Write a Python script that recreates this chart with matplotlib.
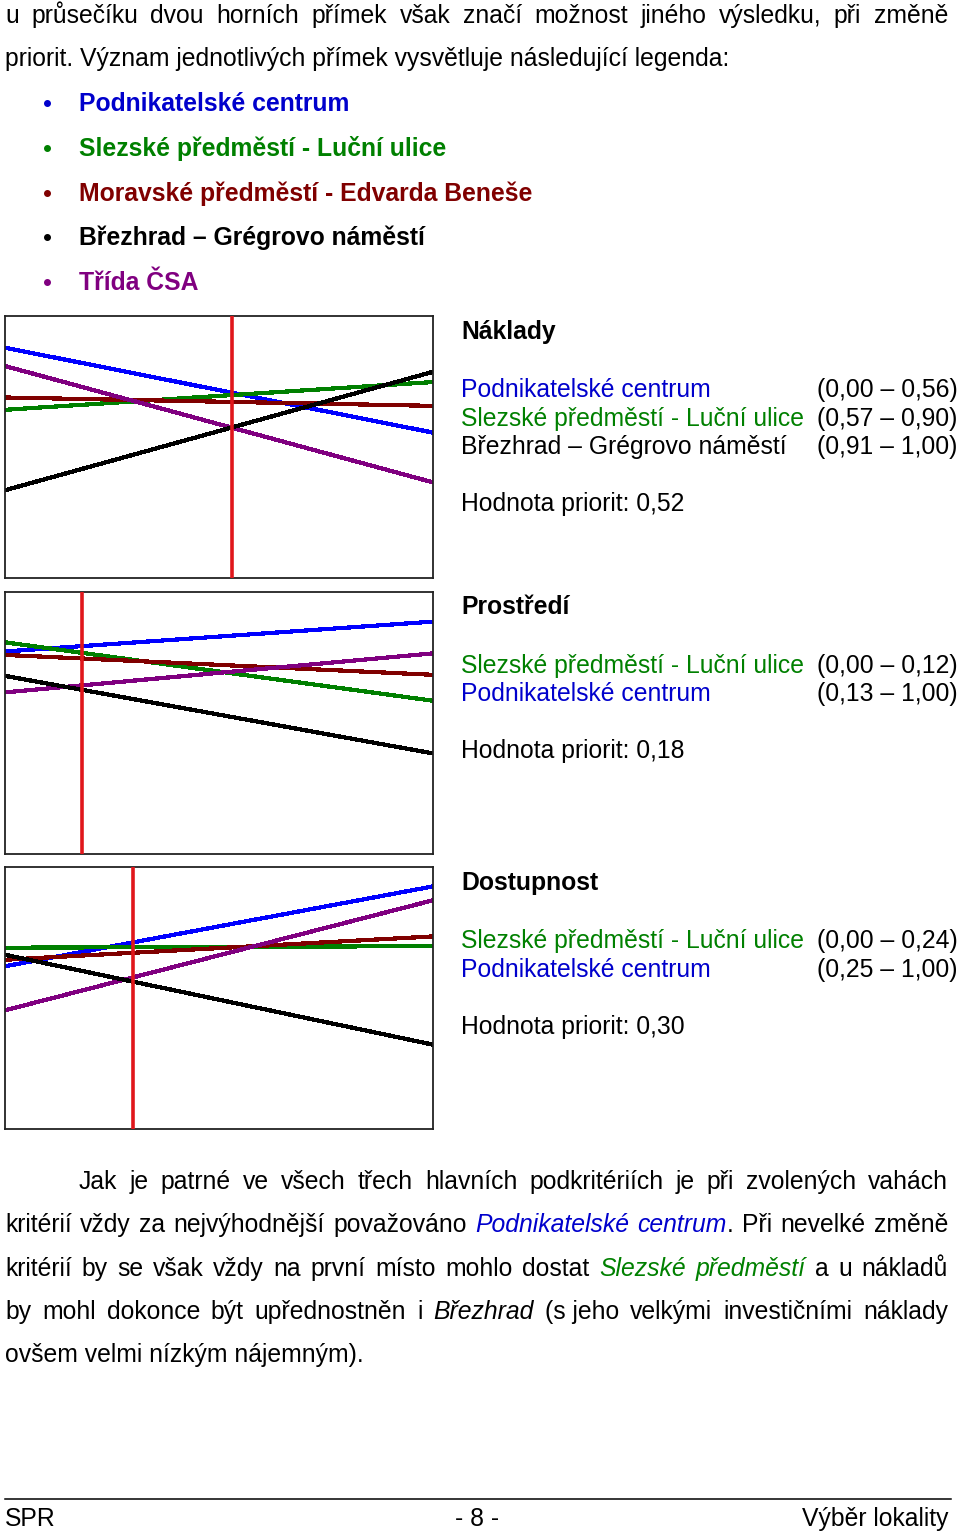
import matplotlib
matplotlib.use("Agg")
import matplotlib.pyplot as plt

plt.rcParams["font.family"] = ["Liberation Sans", "DejaVu Sans"]

# ---- data ----
alternatives = ["Podnikatelské centrum", "Slezské předměstí - Luční ulice",
                "Moravské předměstí - Edvarda Beneše", "Březhrad – Grégrovo náměstí",
                "Třída ČSA"]
text_colors = ["#0000CC", "#008000", "#800000", "#000000", "#800080"]
line_colors = ["#0000FF", "#008000", "#800000", "#000000", "#800080"]

criteria = ["Náklady", "Prostředí", "Dostupnost"]
priority_labels = ["0,52", "0,18", "0,30"]
priority_marks = [0.53, 0.18, 0.30]   # where the red line sits in each chart
weight_x = [0.0, 1.0]

# value of each alternative at weight 0 and weight 1 (order as alternatives)
naklady_start = [0.879, 0.642, 0.689, 0.335, 0.809]
naklady_end = [0.555, 0.748, 0.657, 0.787, 0.365]
prostredi_start = [0.771, 0.806, 0.758, 0.678, 0.615]
prostredi_end = [0.885, 0.583, 0.682, 0.382, 0.764]
dostupnost_start = [0.621, 0.692, 0.646, 0.665, 0.453]
dostupnost_end = [0.926, 0.698, 0.735, 0.322, 0.873]

# winner for each priority range: (alternative index, range text)
naklady_ranks = [(0, "(0,00 – 0,56)"), (1, "(0,57 – 0,90)"), (3, "(0,91 – 1,00)")]
prostredi_ranks = [(1, "(0,00 – 0,12)"), (0, "(0,13 – 1,00)")]
dostupnost_ranks = [(1, "(0,00 – 0,24)"), (0, "(0,25 – 1,00)")]

intro_lines = [
    "u průsečíku dvou horních přímek však značí možnost jiného výsledku, při změně",
    "priorit. Význam jednotlivých přímek vysvětluje následující legenda:",
]

BLACK = "#000000"
para_lines = [
    ["Jak", "je", "patrné", "ve", "všech", "třech", "hlavních", "podkritériích", "je", "při",
     "zvolených", "vahách"],
    ["kritérií", "vždy", "za", "nejvýhodnější", "považováno",
     [("Podnikatelské", "#0000CC", True)],
     [("centrum", "#0000CC", True), (".", BLACK, False)],
     "Při", "nevelké", "změně"],
    ["kritérií", "by", "se", "však", "vždy", "na", "první", "místo", "mohlo", "dostat",
     [("Slezské", "#008000", True)], [("předměstí", "#008000", True)], "a", "u", "nákladů"],
    ["by", "mohl", "dokonce", "být", "upřednostněn", "i", [("Březhrad", BLACK, True)],
     "(s jeho", "velkými", "investičními", "náklady"],
    ["ovšem velmi nízkým nájemným)."],
]

# ---- page ----
W, H = 960, 1531
FS = 17.8
fig = plt.figure(figsize=(W / 100, H / 100), dpi=100)
fig.patch.set_facecolor("white")
page = fig.add_axes([0, 0, 1, 1])
page.set_xlim(0, W)
page.set_ylim(H, 0)
page.axis("off")
renderer = fig.canvas.get_renderer()


def word_pieces(word):
    if isinstance(word, str):
        return [(word, BLACK, False)]
    return word


def put_word(x, y, word, draw=True):
    """Draw a word made of pieces; return its total width in pixels."""
    total = 0
    for txt, col, ital in word_pieces(word):
        t = page.text(x + total, y, txt, color=col, fontsize=FS,
                      style="italic" if ital else "normal", ha="left", va="baseline")
        total += t.get_window_extent(renderer).width
        if not draw:
            t.remove()
    return total


def justify(words, y, x0, x1, justified=True):
    widths = [put_word(0, y, w, draw=False) for w in words]
    gap = 6.9
    if justified and len(words) > 1:
        gap = (x1 - x0 - sum(widths)) / (len(words) - 1)
    x = x0
    for w, ww in zip(words, widths):
        put_word(x, y, w)
        x += ww + gap


# intro text
justify(intro_lines[0].split(" "), 23, 5, 948)
page.text(5, 66, intro_lines[1], fontsize=FS, ha="left", va="baseline")

# bullet legend
for i, (name, col) in enumerate(zip(alternatives, text_colors)):
    yb = 111 + i * 44.8
    page.plot([47], [yb - 8], "o", color=col, markersize=4)
    page.text(79, yb, name, color=col, fontsize=FS, fontweight="bold",
              ha="left", va="baseline")

# ---- the three sensitivity charts ----
chart_tops = [316, 591.5, 867]
chart_h = 262
starts = [naklady_start, prostredi_start, dostupnost_start]
ends = [naklady_end, prostredi_end, dostupnost_end]
ranks = [naklady_ranks, prostredi_ranks, dostupnost_ranks]
draw_order = [0, 1, 2, 4, 3]

for k in range(3):
    top = chart_tops[k]
    ax = fig.add_axes([5 / W, 1 - (top + chart_h) / H, 428 / W, chart_h / H])
    ax.set_xlim(0, 1)
    ax.set_ylim(0, 1)
    ax.set_xticks([])
    ax.set_yticks([])
    for sp in ax.spines.values():
        sp.set_color("#222222")
        sp.set_linewidth(1.3)
    for i in draw_order:
        ax.plot(weight_x, [starts[k][i], ends[k][i]], color=line_colors[i],
                linewidth=2.3, antialiased=False, solid_capstyle="butt")
    ax.axvline(priority_marks[k], color="#E0161B", linewidth=2.6, zorder=5)

    # text block on the right
    page.text(461, top + 23, criteria[k], fontsize=FS, fontweight="bold",
              ha="left", va="baseline")
    y = top + 81
    for idx, rng in ranks[k]:
        page.text(461, y, alternatives[idx], color=text_colors[idx], fontsize=FS,
                  ha="left", va="baseline")
        page.text(817, y, rng, fontsize=FS, ha="left", va="baseline")
        y += 28.6
    page.text(461, y - 28.6 + 57, f"Hodnota priorit: {priority_labels[k]}",
              fontsize=FS, ha="left", va="baseline")

# ---- closing paragraph ----
for j, words in enumerate(para_lines):
    yb = 1189 + j * 43.3
    x0 = 79 if j == 0 else 5
    justify(words, yb, x0, 948, justified=(j < len(para_lines) - 1))

# ---- footer ----
page.plot([5, 951], [1499, 1499], color="#000000", linewidth=1.1)
page.text(5, 1526, "SPR", fontsize=FS, ha="left", va="baseline")
page.text(477, 1526, "- 8 -", fontsize=FS, ha="center", va="baseline")
page.text(948, 1526, "Výběr lokality", fontsize=FS, ha="right", va="baseline")

fig.savefig("out.png", dpi=100, facecolor="white")
